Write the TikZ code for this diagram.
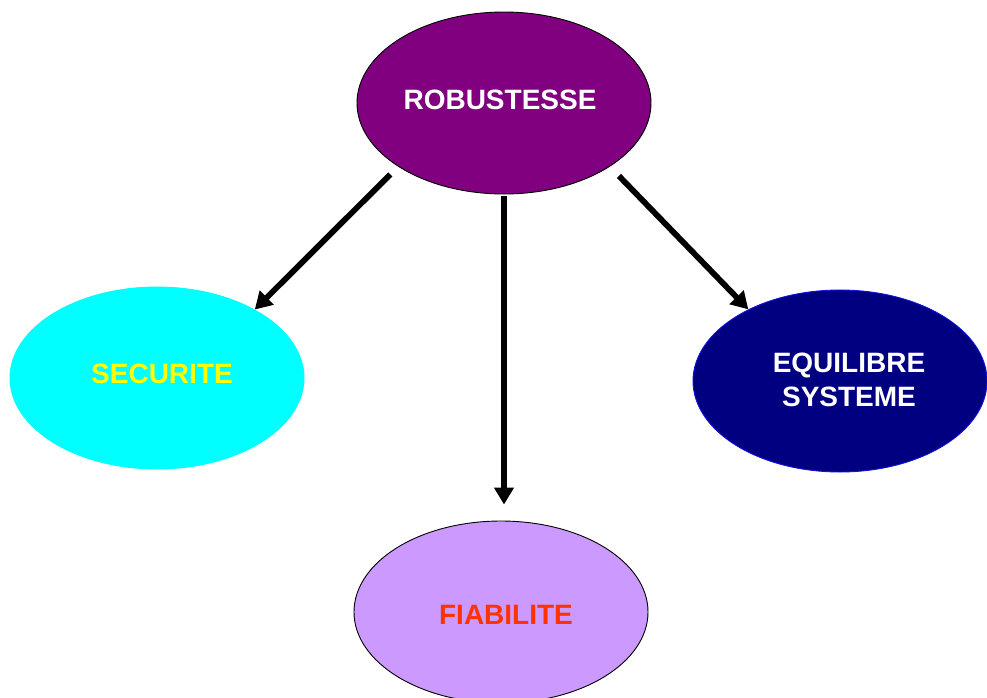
\documentclass[tikz,border=0pt]{standalone}
\usepackage{fontspec}
\setmainfont{Liberation Sans}
\usetikzlibrary{shapes.geometric,arrows.meta}

\definecolor{robfill}{HTML}{800080}
\definecolor{secfill}{HTML}{00FFFF}
\definecolor{secfont}{HTML}{FFFF00}
\definecolor{equfill}{HTML}{000080}
\definecolor{equline}{HTML}{1010E0}
\definecolor{fiafill}{HTML}{CC99FF}
\definecolor{fiafont}{HTML}{FF3300}

\tikzset{
  bubble/.style={ellipse, minimum width=294pt, minimum height=182pt, inner sep=0pt, line width=0.9pt},
  label/.style={font=\bfseries\fontsize{28}{34}\selectfont, align=center, inner sep=0pt},
  link/.style={line width=5.8pt, -{Triangle[length=17pt,width=19pt]}},
}

\begin{document}
\begin{tikzpicture}[x=1pt, y=-1pt]
  \clip (0,0) rectangle (987,697);
  \fill[white] (0,0) rectangle (987,697);

  % the four concepts
  \node[bubble, fill=robfill, draw=black] (rob) at (504,103) {};
  \node[bubble, fill=secfill, draw=secfill] (sec) at (157,378) {};
  \node[bubble, fill=equfill, draw=equline] (equ) at (840,381) {};
  \node[bubble, fill=fiafill, draw=black] (fia) at (501,612) {};

  % their names
  \node[label, text=white]   (robtxt) at (500,100) {ROBUSTESSE};
  \node[label, text=secfont] (sectxt) at (162,374) {SECURITE};
  \node[label, text=white]   (equtxt) at (849,380) {EQUILIBRE\\SYSTEME};
  \node[label, text=fiafont] (fiatxt) at (506,615) {FIABILITE};

  % robustness leads to the three others
  \draw[link, shorten <=11pt] (rob.211) -- (sec.35.6);
  \draw[link, shorten <=2pt, shorten >=16pt] (rob.south) -- (rob.south |- fia.north);
  \draw[link, shorten <=13pt] (rob.-31.5) -- (equ.142.5);
\end{tikzpicture}
\end{document}
